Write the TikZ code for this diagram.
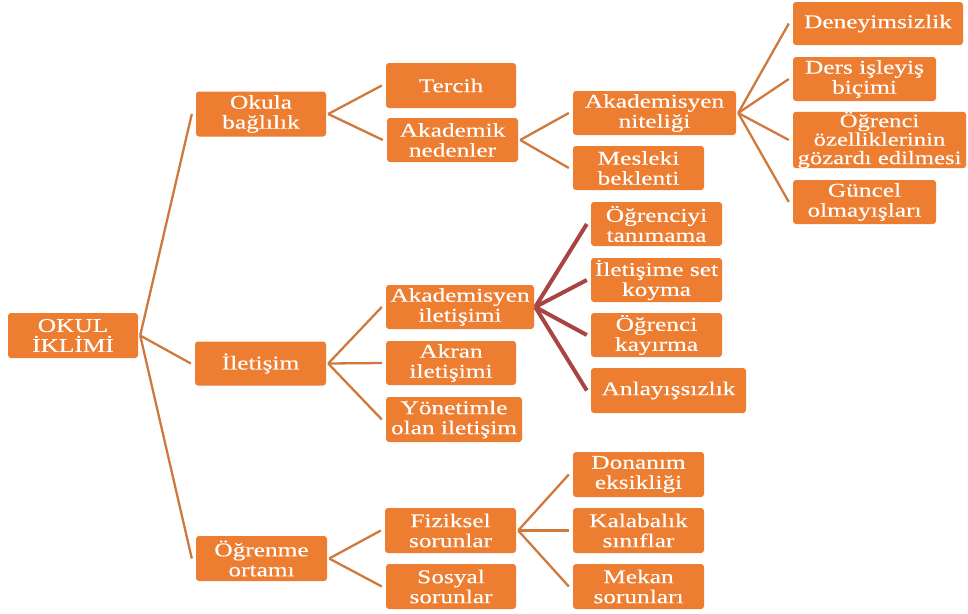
\documentclass[tikz,border=0pt]{standalone}
\usepackage{fontspec}
\setmainfont{Liberation Serif}[FakeStretch=1.3,FakeBold=0.3]
\definecolor{boxorange}{HTML}{ED7D31}
\definecolor{lineorange}{HTML}{CF7A3C}
\definecolor{linered}{HTML}{A84442}
\begin{document}
\begin{tikzpicture}[x=1pt,y=-1pt,
  box/.style={draw=none, fill=boxorange, rounded corners=3pt, text=white, align=center,
    inner sep=0pt, font=\fontsize{19.5}{20}\selectfont},
  link/.style={draw=lineorange, line width=2.3pt},
  redlink/.style={draw=linered, line width=4pt}]
\useasboundingbox (0,0) rectangle (968,613);
% level 0
\node[box, minimum width=130pt, minimum height=45pt] (root) at (73,335.5) {OKUL\\İKLİMİ};
% level 1
\node[box, minimum width=130pt, minimum height=45pt] (okula) at (261,114) {Okula\\bağlılık};
\node[box, minimum width=131pt, minimum height=44pt] (iletisim) at (260.5,363.5) {İletişim};
\node[box, minimum width=131pt, minimum height=45pt] (ogrenme) at (261.5,558.5) {Öğrenme\\ortamı};
% level 2
\node[box, minimum width=130pt, minimum height=45pt] (tercih) at (451,85.5) {Tercih};
\node[box, minimum width=131pt, minimum height=44pt] (aknedenler) at (452.5,140) {Akademik\\nedenler};
\node[box, minimum width=148pt, minimum height=44pt] (akilet) at (460,307) {Akademisyen\\iletişimi};
\node[box, minimum width=130pt, minimum height=44pt] (akran) at (451,363) {Akran\\iletişimi};
\node[box, minimum width=136pt, minimum height=45pt] (yonetim) at (454,419.5) {Yönetimle\\olan iletişim};
\node[box, minimum width=131pt, minimum height=45pt] (fiziksel) at (450.5,530.5) {Fiziksel\\sorunlar};
\node[box, minimum width=130pt, minimum height=45pt] (sosyal) at (451,586.5) {Sosyal\\sorunlar};
% level 3
\node[box, minimum width=163pt, minimum height=44pt] (akniteligi) at (654.5,113) {Akademisyen\\niteliği};
\node[box, minimum width=131pt, minimum height=44pt] (mesleki) at (638.5,168) {Mesleki\\beklenti};
\node[box, minimum width=131pt, minimum height=44pt] (ogrtanim) at (656.5,224) {Öğrenciyi\\tanımama};
\node[box, minimum width=131pt, minimum height=44pt] (setkoy) at (656.5,280) {İletişime set\\koyma};
\node[box, minimum width=131pt, minimum height=44pt] (kayirma) at (656.5,335) {Öğrenci\\kayırma};
\node[box, minimum width=155pt, minimum height=45pt] (anlay) at (668.5,390.5) {Anlayışsızlık};
\node[box, minimum width=131pt, minimum height=45pt] (donanim) at (638.5,474.5) {Donanım\\eksikliği};
\node[box, minimum width=131pt, minimum height=45pt] (kalabalik) at (638.5,530.5) {Kalabalık\\sınıflar};
\node[box, minimum width=131pt, minimum height=45pt] (mekan) at (638.5,586.5) {Mekan\\sorunları};
% level 4
\node[box, minimum width=170pt, minimum height=43pt] (deney) at (878,23.5) {Deneyimsizlik};
\node[box, minimum width=143pt, minimum height=44pt] (ders) at (864.5,79) {Ders işleyiş\\biçimi};
\node[box, minimum width=173pt, minimum height=54pt, font=\fontsize{19}{18.5}\selectfont] (ogrozel) at (879.5,140) {Öğrenci\\özelliklerinin\\gözardı edilmesi};
\node[box, minimum width=143pt, minimum height=44pt] (guncel) at (864.5,202) {Güncel\\olmayışları};
% connectors
\foreach \c in {okula,iletisim,ogrenme}
  \draw[link] ([xshift=2pt]root.east) -- ([xshift=-4pt]\c.west);
\foreach \c in {tercih,aknedenler}
  \draw[link] ([xshift=2pt]okula.east) -- ([xshift=-4pt]\c.west);
\foreach \c in {akniteligi,mesleki}
  \draw[link] ([xshift=2pt]aknedenler.east) -- ([xshift=-4pt]\c.west);
\foreach \c in {deney,ders,ogrozel,guncel}
  \draw[link] ([xshift=2pt]akniteligi.east) -- ([xshift=-4pt]\c.west);
\foreach \c in {akilet,akran,yonetim}
  \draw[link] ([xshift=2pt]iletisim.east) -- ([xshift=-4pt]\c.west);
\foreach \c in {ogrtanim,setkoy,kayirma,anlay}
  \draw[redlink] ([xshift=1pt]akilet.east) -- ([xshift=-4pt]\c.west);
\foreach \c in {fiziksel,sosyal}
  \draw[link] ([xshift=2pt]ogrenme.east) -- ([xshift=-4pt]\c.west);
\foreach \c in {donanim,kalabalik,mekan}
  \draw[link] ([xshift=2pt]fiziksel.east) -- ([xshift=-4pt]\c.west);
\end{tikzpicture}
\end{document}
